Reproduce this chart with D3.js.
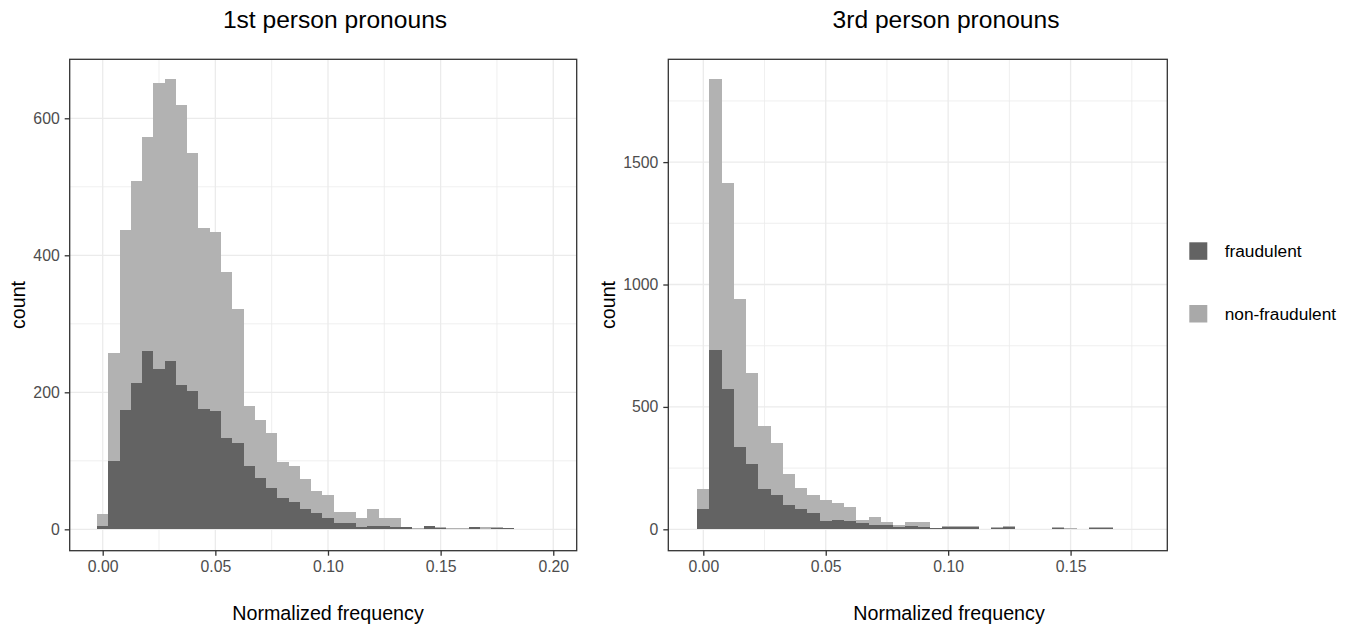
<!DOCTYPE html>
<html>
<head>
<meta charset="utf-8">
<script src="https://cdn.jsdelivr.net/npm/d3@7"></script>
<style>
  html, body { margin: 0; padding: 0; background: #fff; }
  svg { display: block; font-family: "Liberation Sans", Arial, Helvetica, sans-serif; }
</style>
</head>
<body>
<svg id="chart" width="1350" height="626"></svg>
<script>
// ---------- data ----------
const binWidth = 0.005;
const legendLabels = ["fraudulent", "non-fraudulent"];

// 1st person pronouns: bin centres 0, 0.005, ... 0.185
const firstFraud = [5,100,174,213,260,234,246,211,202,176,173,133,126,93,75,61,46,40,30,24,16,9,9,4,5,5,4,3,1,5,2,1,1,4,0,2,2,0];
const firstNonFraud = [22,258,437,508,573,652,658,619,549,440,434,376,322,180,160,140,99,93,73,56,50,25,26,16,29,16,16,4,2,5,4,2,2,4,3,3,2,1];

// 3rd person pronouns: bin centres 0, 0.005, ... 0.165
const thirdFraud = [82,731,573,335,265,166,139,100,81,66,33,40,32,25,19,16,11,14,11,5,11,11,11,0,5,11,2,0,0,7,1,0,5,5];
const thirdNonFraud = [165,1838,1415,941,638,423,352,226,170,139,118,106,92,38,52,30,19,30,30,5,14,14,14,1,8,14,3,2,2,8,5,0,8,8];

const xTicks1 = [0, 0.05, 0.10, 0.15, 0.20];
const xMinor1 = [0.025, 0.075, 0.125, 0.175];
const yTicks1 = [0, 200, 400, 600];
const yMinor1 = [100, 300, 500];

const xTicks3 = [0, 0.05, 0.10, 0.15];
const xMinor3 = [0.025, 0.075, 0.125, 0.175];
const yTicks3 = [0, 500, 1000, 1500];
const yMinor3 = [250, 750, 1250, 1750];

// ---------- style ----------
const DARK = "#636363", LIGHT = "#b2b2b2";
const GRID = "#ebebeb", BORDER = "#333333", TICKTXT = "#4d4d4d";

const svg = d3.select("#chart");

function panel(cfg) {
  const x = d3.scaleLinear().domain(cfg.xDomain).range([cfg.left, cfg.right]);
  const y = d3.scaleLinear().domain(cfg.yDomain).range([cfg.bottom, cfg.top]);
  const g = svg.append("g");

  g.append("rect").attr("x", cfg.left).attr("y", cfg.top)
    .attr("width", cfg.right - cfg.left).attr("height", cfg.bottom - cfg.top)
    .attr("fill", "#fff");

  // minor grid
  g.selectAll(".vminor").data(cfg.xMinor).enter().append("line")
    .attr("x1", d => x(d)).attr("x2", d => x(d)).attr("y1", cfg.top).attr("y2", cfg.bottom)
    .attr("stroke", GRID).attr("stroke-width", 0.8);
  g.selectAll(".hminor").data(cfg.yMinor).enter().append("line")
    .attr("y1", d => y(d)).attr("y2", d => y(d)).attr("x1", cfg.left).attr("x2", cfg.right)
    .attr("stroke", GRID).attr("stroke-width", 0.8);
  // major grid
  g.selectAll(".vmajor").data(cfg.xTicks).enter().append("line")
    .attr("x1", d => x(d)).attr("x2", d => x(d)).attr("y1", cfg.top).attr("y2", cfg.bottom)
    .attr("stroke", GRID).attr("stroke-width", 1.3);
  g.selectAll(".hmajor").data(cfg.yTicks).enter().append("line")
    .attr("y1", d => y(d)).attr("y2", d => y(d)).attr("x1", cfg.left).attr("x2", cfg.right)
    .attr("stroke", GRID).attr("stroke-width", 1.3);

  // bars: non-fraudulent (light) then fraudulent (dark) overlaid
  const series = [
    { vals: cfg.nonFraud, color: LIGHT },
    { vals: cfg.fraud, color: DARK }
  ];
  series.forEach(s => {
    g.append("g").selectAll("rect").data(s.vals.map((v, i) => ({ c: i * binWidth, v })))
      .enter().append("rect")
      .attr("x", d => x(d.c - binWidth / 2))
      .attr("width", d => x(d.c + binWidth / 2) - x(d.c - binWidth / 2))
      .attr("y", d => y(d.v))
      .attr("height", d => y(0) - y(d.v))
      .attr("fill", s.color)
      .attr("shape-rendering", "crispEdges");
  });

  // border
  g.append("rect").attr("x", cfg.left).attr("y", cfg.top)
    .attr("width", cfg.right - cfg.left).attr("height", cfg.bottom - cfg.top)
    .attr("fill", "none").attr("stroke", BORDER).attr("stroke-width", 1.3);

  // axes
  const ax = g.append("g").attr("transform", `translate(0,${cfg.bottom})`)
    .call(d3.axisBottom(x).tickValues(cfg.xTicks).tickFormat(d3.format(".2f")).tickSize(5).tickPadding(5));
  const ay = g.append("g").attr("transform", `translate(${cfg.left},0)`)
    .call(d3.axisLeft(y).tickValues(cfg.yTicks).tickFormat(d3.format("d")).tickSize(5).tickPadding(5));
  [ax, ay].forEach(a => {
    a.select(".domain").remove();
    a.selectAll(".tick line").attr("stroke", BORDER).attr("stroke-width", 1.3);
    a.selectAll(".tick text").attr("fill", TICKTXT)
      .style("font-family", '"Liberation Sans", Arial, sans-serif').style("font-size", "15.8px");
  });

  // titles
  g.append("text").attr("x", cfg.titleX).attr("y", 28)
    .attr("text-anchor", "middle").attr("font-size", "24.6px").attr("fill", "#000")
    .text(cfg.title);
  g.append("text").attr("x", cfg.xTitleX).attr("y", 620)
    .attr("text-anchor", "middle").attr("font-size", "19.7px").attr("fill", "#000")
    .text("Normalized frequency");
  g.append("text")
    .attr("transform", `translate(${cfg.yTitleX},${(cfg.top + cfg.bottom) / 2}) rotate(-90)`)
    .attr("text-anchor", "middle").attr("font-size", "19.7px").attr("fill", "#000")
    .text("count");
}

panel({
  title: "1st person pronouns", titleX: 335, xTitleX: 328, yTitleX: 25,
  left: 69.7, right: 576.7, top: 59.3, bottom: 550.7,
  xDomain: [-0.01465, 0.2104], yDomain: [-31.2, 686.1],
  xTicks: xTicks1, xMinor: xMinor1, yTicks: yTicks1, yMinor: yMinor1,
  fraud: firstFraud, nonFraud: firstNonFraud
});

panel({
  title: "3rd person pronouns", titleX: 946, xTitleX: 949, yTitleX: 615,
  left: 668.3, right: 1167.3, top: 59.3, bottom: 550.7,
  xDomain: [-0.0143, 0.1895], yDomain: [-87.4, 1920],
  xTicks: xTicks3, xMinor: xMinor3, yTicks: yTicks3, yMinor: yMinor3,
  fraud: thirdFraud, nonFraud: thirdNonFraud
});

// legend
const legColors = [DARK, "#a9a9a9"];
const legY = [242.3, 305];
const leg = svg.append("g");
legendLabels.forEach((lab, i) => {
  leg.append("rect").attr("x", 1189.3).attr("y", legY[i]).attr("width", 18).attr("height", 17.5)
    .attr("fill", legColors[i]);
  leg.append("text").attr("x", 1224.7).attr("y", legY[i] + 8.75).attr("dy", "0.35em")
    .attr("font-size", "17.3px").attr("fill", "#000").text(lab);
});
</script>
</body>
</html>
